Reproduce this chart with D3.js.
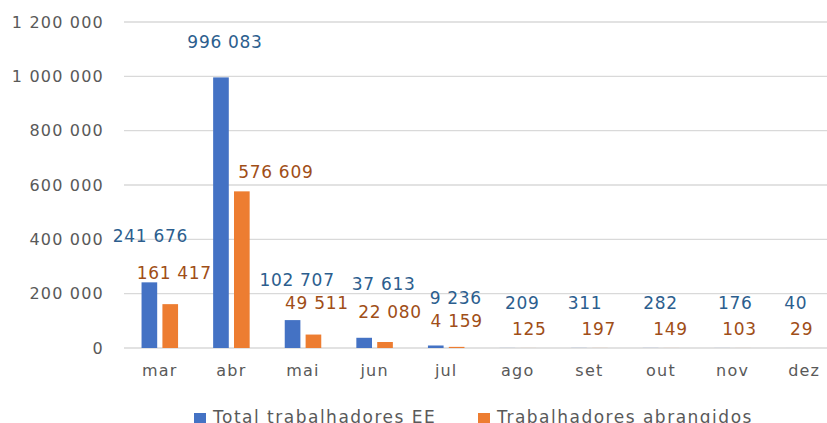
<!DOCTYPE html>
<html lang="pt">
<head>
<meta charset="UTF-8">
<title>Trabalhadores</title>
<script src="https://d3js.org/d3.v7.min.js"></script>
<style>
  body { margin: 0; background: #fff; }
  text { font-family: "DejaVu Sans", sans-serif; }
</style>
</head>
<body>
<script>
const months = ["mar", "abr", "mai", "jun", "jul", "ago", "set", "out", "nov", "dez"];
const totalEE = [241676, 996083, 102707, 37613, 9236, 209, 311, 282, 176, 40];
const abrangidos = [161417, 576609, 49511, 22080, 4159, 125, 197, 149, 103, 29];
const seriesNames = ["Total trabalhadores EE", "Trabalhadores abrangidos"];
const yTicks = [0, 200000, 400000, 600000, 800000, 1000000, 1200000];

// label nudges (px) from default "outside end" position, as placed in the original
const nudgeEE = [[1, -35], [4, -24], [4.5, -29], [19.5, -43], [20, -36.5], [15, -33.5], [6, -33.5], [10, -33.5], [13, -33.5], [2, -33.5]];
const nudgeAbr = [[4, -20.5], [34, -8], [3.5, -20.5], [5, -19], [0, -15], [1, -8], [-1, -8], [-1, -8], [-3.5, -8], [-13, -8]];

const W = 827, H = 423;
const colors = ["#4472C4", "#ED7D31"];
const labelColors = ["#2C5E8E", "#A04E17"];
const fmt = v => d3.format(",")(v).replace(/,/g, " ");

const svg = d3.select("body").append("svg")
    .attr("width", W)
    .attr("height", H);

const y = d3.scaleLinear().domain([0, 1200000]).range([348, 22]);
const x = d3.scaleBand().domain(months).range([124, 840])
    .paddingInner(0.49).paddingOuter(0.245);
const x1 = d3.scaleBand().domain([0, 1]).range([0, x.bandwidth()]).paddingInner(0.25);

// grid + y tick labels
svg.append("g").selectAll("line")
    .data(yTicks)
    .join("line")
    .attr("x1", 124).attr("x2", W)
    .attr("y1", d => y(d)).attr("y2", d => y(d))
    .attr("stroke", "#D9D9D9")
    .attr("stroke-width", 1.3);

svg.append("g").selectAll("text")
    .data(yTicks)
    .join("text")
    .attr("x", 104)
    .attr("y", d => y(d))
    .attr("dy", "0.36em")
    .attr("text-anchor", "end")
    .attr("fill", "#595959")
    .attr("font-size", 16)
    .attr("letter-spacing", 1.2)
    .text(fmt);

// bars
const series = [totalEE, abrangidos];
const nudges = [nudgeEE, nudgeAbr];
series.forEach((vals, s) => {
    const g = svg.append("g");
    g.selectAll("rect")
        .data(vals)
        .join("rect")
        .attr("x", (d, i) => x(months[i]) + x1(s))
        .attr("width", x1.bandwidth())
        .attr("y", d => y(d))
        .attr("height", d => y(0) - y(d))
        .attr("fill", colors[s]);

    g.selectAll("text")
        .data(vals)
        .join("text")
        .attr("x", (d, i) => x(months[i]) + x1(s) + x1.bandwidth() / 2 + nudges[s][i][0])
        .attr("y", (d, i) => y(d) - 5 + nudges[s][i][1])
        .attr("text-anchor", "middle")
        .attr("fill", labelColors[s])
        .attr("font-size", 17)
        .attr("letter-spacing", 0.7)
        .text(fmt);
});

// category labels
svg.append("g").selectAll("text")
    .data(months)
    .join("text")
    .attr("x", d => x(d) + x.bandwidth() / 2)
    .attr("y", 376)
    .attr("text-anchor", "middle")
    .attr("fill", "#595959")
    .attr("font-size", 16)
    .attr("letter-spacing", 1.2)
    .text(d => d);

// legend (bottom edge is cut in the original too)
const legendX = [194, 478];
const leg = svg.append("g").selectAll("g")
    .data(seriesNames)
    .join("g")
    .attr("transform", (d, i) => `translate(${legendX[i]},0)`);
leg.append("rect")
    .attr("y", 413).attr("width", 12).attr("height", 12)
    .attr("fill", (d, i) => colors[i]);
leg.append("text")
    .attr("x", 19).attr("y", 423)
    .attr("fill", "#595959")
    .attr("font-size", 17)
    .attr("letter-spacing", 1.5)
    .text(d => d);
</script>
</body>
</html>
